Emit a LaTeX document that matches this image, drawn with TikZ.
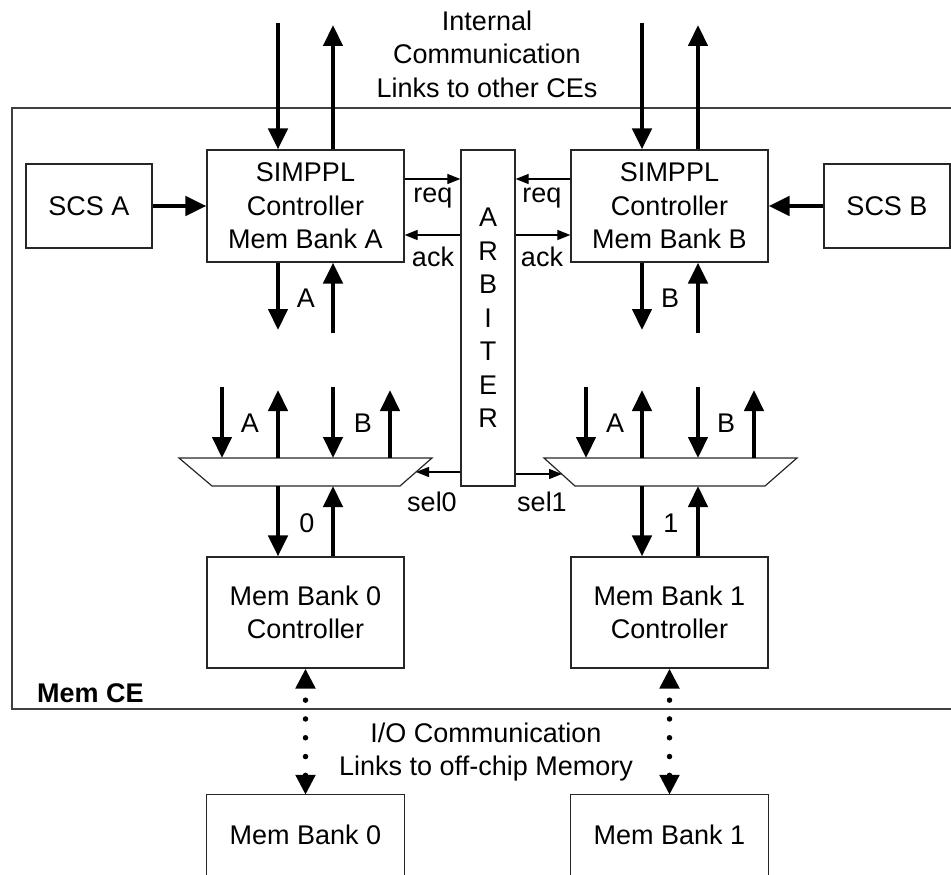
\documentclass[tikz,border=0pt]{standalone}
\usepackage{fontspec}
\setmainfont{Liberation Sans}
\usetikzlibrary{arrows.meta}
\begin{document}
\begin{tikzpicture}[x=1pt,y=-1pt,
  every node/.style={font=\fontsize{27}{33.5}\selectfont, inner sep=0pt, align=center},
  box/.style={draw=black!85, line width=1.2pt},
  frame/.style={draw=black!75, line width=1.4pt},
  bus/.style={line width=4.5pt, -{Triangle[width=19pt,length=21pt]}},
  sig/.style={line width=1.1pt, -{Triangle[width=10pt,length=13pt]}},
  dotlink/.style={line width=5.5pt, line cap=round, dash pattern=on 0pt off 18.8pt, dash phase=6pt,
    {Triangle[width=19pt,length=20pt]}-{Triangle[width=19pt,length=20pt]}}
]
\useasboundingbox (0,0) rectangle (951,875);

% Mem CE boundary (open towards the right edge)
\draw[frame] (951,108) -- (12,108) -- (12,709) -- (951,709);
\node[anchor=west, font=\fontsize{27}{33.5}\selectfont\bfseries] (ce) at (37,693) {Mem CE};

% titles
\node (title) at (487,54) {Internal\\Communication\\Links to other CEs};
\node (io) at (486,752) {I/O Communication\\Links to off-chip Memory};

% blocks
\node[box, minimum width=126, minimum height=84] (scsA) at (89,206) {SCS A};
\node[box, minimum width=126, minimum height=84] (scsB) at (887,206) {SCS B};
\node[box, minimum width=197, minimum height=112] (simA) at (305.5,206) {SIMPPL\\Controller\\Mem Bank A};
\node[box, minimum width=197, minimum height=112] (simB) at (669.5,206) {SIMPPL\\Controller\\Mem Bank B};
\node[box, minimum width=54, minimum height=336] (arb) at (488,318) {A\\R\\B\\I\\T\\E\\R};
\node[box, minimum width=197, minimum height=111] (mc0) at (305.5,612.5) {Mem Bank 0\\Controller};
\node[box, minimum width=197, minimum height=111] (mc1) at (669.5,612.5) {Mem Bank 1\\Controller};

% off-chip memory banks (cut off at the bottom)
\node[minimum width=197, minimum height=80] (mb0) at (305.5,835) {Mem Bank 0};
\node[minimum width=197, minimum height=80] (mb1) at (669.5,835) {Mem Bank 1};
\draw[box] (mb0.south west) -- (mb0.north west) -- (mb0.north east) -- (mb0.south east);
\draw[box] (mb1.south west) -- (mb1.north west) -- (mb1.north east) -- (mb1.south east);

% multiplexers
\coordinate (m0tl) at (179,458); \coordinate (m0tr) at (432,458);
\coordinate (m0br) at (400,486); \coordinate (m0bl) at (212,486);
\coordinate (m1tl) at (544,458); \coordinate (m1tr) at (797,458);
\coordinate (m1br) at (765,486); \coordinate (m1bl) at (575,486);
\draw[box] (m0tl) -- (m0tr) -- (m0br) -- (m0bl) -- cycle;
\draw[box] (m1tl) -- (m1tr) -- (m1br) -- (m1bl) -- cycle;

% links to other CEs
\coordinate (extAin) at (278,23);  \coordinate (extAout) at (333,25);
\coordinate (extBin) at (642,23);  \coordinate (extBout) at (698,25);
\draw[bus] (extAin) -- (extAin |- simA.north);
\draw[bus] (extAout |- simA.north) -- (extAout);
\draw[bus] (extBin) -- (extBin |- simB.north);
\draw[bus] (extBout |- simB.north) -- (extBout);

% SCS inputs
\draw[bus] (scsA.east) -- (simA.west);
\draw[bus] (scsB.west) -- (simB.east);

% controller ports towards the multiplexers
\coordinate (pA0) at (278,330); \coordinate (pA1) at (333,333);
\coordinate (pB0) at (642,330); \coordinate (pB1) at (698,333);
\draw[bus] (pA0 |- simA.south) -- (pA0);
\draw[bus] (pA1) -- (pA1 |- simA.south);
\draw[bus] (pB0 |- simB.south) -- (pB0);
\draw[bus] (pB1) -- (pB1 |- simB.south);
\node (lA) at (306,298) {A};
\node (lB) at (670,298) {B};

% multiplexer inputs
\foreach \x/\n in {222/a,333/b,586/c,698/d}{
  \coordinate (in\n) at (\x,387);
  \draw[bus] (in\n) -- (\x,458);
}
\foreach \x/\n in {278/a,390/b,642/c,754/d}{
  \coordinate (out\n) at (\x,390);
  \draw[bus] (\x,458) -- (out\n);
}
\node (mA0) at (250,423) {A};
\node (mB0) at (363,423) {B};
\node (mA1) at (615,423) {A};
\node (mB1) at (726,423) {B};

% multiplexer to bank controllers
\coordinate (q0a) at (278,486); \coordinate (q0b) at (333,486);
\coordinate (q1a) at (642,486); \coordinate (q1b) at (698,486);
\draw[bus] (q0a) -- (q0a |- mc0.north);
\draw[bus] (q0b |- mc0.north) -- (q0b);
\draw[bus] (q1a) -- (q1a |- mc1.north);
\draw[bus] (q1b |- mc1.north) -- (q1b);
\node (l0) at (307,523) {0};
\node (l1) at (671,523) {1};

% handshake with the arbiter
\coordinate (reqy) at (0,179); \coordinate (acky) at (0,235);
\draw[sig] (simA.east |- reqy) -- (arb.west |- reqy);
\draw[sig] (arb.west |- acky) -- (simA.east |- acky);
\draw[sig] (simB.west |- reqy) -- (arb.east |- reqy);
\draw[sig] (arb.east |- acky) -- (simB.west |- acky);
\node (rqA) at (433,198) {req};
\node (akA) at (433,257) {ack};
\node (rqB) at (542,198) {req};
\node (akB) at (542,257) {ack};

% select lines
\coordinate (s0) at (416,472); \coordinate (s1) at (562,474);
\draw[sig] (arb.west |- s0) -- (s0);
\draw[sig] (arb.east |- s1) -- (s1);
\node (ls0) at (432,502) {sel0};
\node (ls1) at (542,502) {sel1};

% off-chip links
\draw[dotlink] (mc0.south) -- (mb0.north);
\draw[dotlink] (mc1.south) -- (mb1.north);
\end{tikzpicture}
\end{document}
